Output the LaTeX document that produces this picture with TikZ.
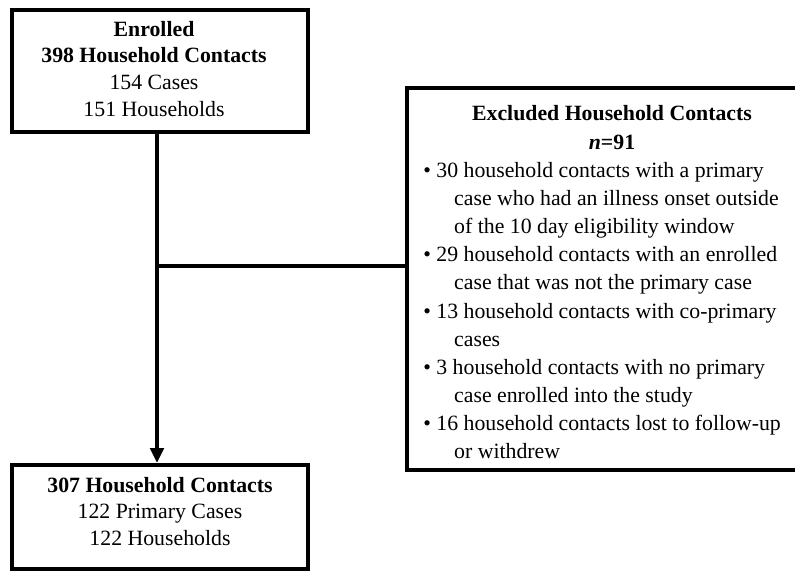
\documentclass[tikz,border=0pt]{standalone}
\usepackage{fontspec}
\setmainfont{Liberation Serif}
\usetikzlibrary{
  positioning,
  arrows.meta
}

\tikzset{
  flowbox/.style={draw, rectangle, line width=3pt, inner sep=0pt},
  boxtext/.style={align=center, inner sep=0pt, font=\fontsize{15.5}{18.9}\selectfont},
  listtext/.style={align=left, inner sep=0pt, font=\fontsize{15.5}{20}\selectfont},
  link/.style={line width=2.6pt}
}

\begin{document}
\begin{tikzpicture}[x=0.025cm,y=-0.025cm,>={Triangle[length=10.5pt,width=9.5pt]}]
            \useasboundingbox (0,0) rectangle (795,571);

            % boxes
            \node[flowbox, minimum width=7.4cm, minimum height=3.05cm] (enrolled) at (160,71) {};
            \node[flowbox, minimum width=10cm, minimum height=9.55cm] (excl) at (607,279) {};
            \node[flowbox, minimum width=7.4cm, minimum height=2.6cm] (results) at (160,517) {};

            % texts
            \node[boxtext, below=0.325cm of enrolled.north, xshift=-0.15cm] (enrolledtxt)
                {\textbf{Enrolled}\\\textbf{398 Household Contacts}\\154 Cases\\151 Households};
            \node[boxtext, font=\fontsize{15.5}{21}\selectfont\bfseries, anchor=north] (excltitle) at (612,105)
                {Excluded Household Contacts\\\textit{n}=91};
            \node[listtext, anchor=north west] (excllist) at (423,162)
                {\textbullet\ 30 household contacts with a primary\\
                 \hspace*{22pt}case who had an illness onset outside\\
                 \hspace*{22pt}of the 10 day eligibility window\\
                 \textbullet\ 29 household contacts with an enrolled\\
                 \hspace*{22pt}case that was not the primary case\\
                 \textbullet\ 13 household contacts with co-primary\\
                 \hspace*{22pt}cases\\
                 \textbullet\ 3 household contacts with no primary\\
                 \hspace*{22pt}case enrolled into the study\\
                 \textbullet\ 16 household contacts lost to follow-up\\
                 \hspace*{22pt}or withdrew};
            \node[boxtext, below=0.35cm of results.north] (resultstxt)
                {\textbf{307 Household Contacts}\\122 Primary Cases\\122 Households};

            % connectors
            \coordinate (split) at (157,266);
            \draw[link,->] (enrolled.south -| split) -- (results.north -| split);
            \draw[link] (split) -- (split -| excl.west);
        \end{tikzpicture}
\end{document}
